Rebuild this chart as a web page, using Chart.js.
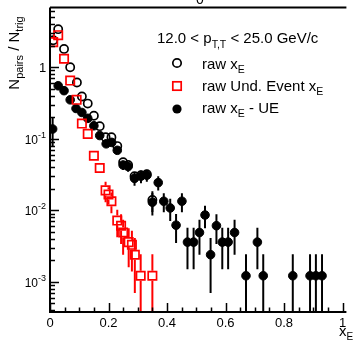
<!DOCTYPE html>
<html>
<head>
<meta charset="utf-8">
<script src="https://cdn.jsdelivr.net/npm/chart.js@4.4.0/dist/chart.umd.min.js"></script>
<style>
  html, body { margin: 0; padding: 0; background: #fff; }
  canvas { display: block; }
</style>
</head>
<body>
<canvas id="xeChart" width="354" height="340"></canvas>
<script>
// raw x_E (same-event pairs)
const xRaw = [0.011, 0.028, 0.048, 0.069, 0.092, 0.109, 0.129, 0.15, 0.17, 0.19, 0.21, 0.23, 0.25, 0.267, 0.289, 0.311, 0.331, 0.35];
const yRaw = [2.38, 3.4, 1.8, 1.0, 0.61, 0.39, 0.31, 0.21, 0.15, 0.105, 0.105, 0.079, 0.047, 0.043, 0.030, 0.031, 0.032, 0.014];
const eRaw = [0.05, 0.06, 0.04, 0.025, 0.02, 0.015, 0.013, 0.01, 0.008, 0.007, 0.007, 0.006, 0.005, 0.005, 0.004, 0.004, 0.004, 0.0045];

// underlying event x_E
const xUE = [0.011, 0.028, 0.048, 0.069, 0.091, 0.109, 0.129, 0.15, 0.17, 0.19, 0.2, 0.21, 0.23, 0.243, 0.25, 0.269, 0.28, 0.29, 0.31, 0.35];
const yUE = [2.24, 2.8, 1.31, 0.65, 0.35, 0.163, 0.117, 0.058, 0.039, 0.019, 0.0166, 0.0134, 0.0072, 0.0061, 0.0049, 0.0036, 0.0033, 0.0024, 0.00122, 0.00122];
const eUE = [0.05, 0.06, 0.03, 0.02, 0.015, 0.01, 0.009, 0.006, 0.005, 0.006, 0.0045, 0.0043, 0.003, 0.0027, 0.0025, 0.002, 0.0019, 0.0017, 0.00122, 0.00122];

// raw x_E minus underlying event
const xSub = [0.009, 0.028, 0.048, 0.069, 0.089, 0.109, 0.129, 0.15, 0.17, 0.192, 0.211, 0.23, 0.25, 0.267, 0.289, 0.311, 0.331, 0.35, 0.37, 0.389,
              0.411, 0.431, 0.451, 0.47, 0.491, 0.511, 0.53, 0.549, 0.569, 0.589, 0.609, 0.631, 0.67, 0.709, 0.729, 0.83, 0.889, 0.909, 0.93];
const ySub = [0.137, 0.55, 0.47, 0.35, 0.265, 0.233, 0.193, 0.152, 0.111, 0.085, 0.089, 0.069, 0.043, 0.041, 0.028, 0.030, 0.031, 0.013, 0.0244, 0.0134,
              0.0108, 0.0062, 0.0134, 0.0036, 0.0036, 0.0049, 0.0086, 0.0024, 0.0061, 0.0036, 0.0036, 0.0049, 0.00122, 0.0036, 0.00122, 0.00122, 0.00122, 0.00122, 0.00122];
const eSub = [0.06, 0.06, 0.04, 0.03, 0.022, 0.018, 0.015, 0.012, 0.01, 0.008, 0.008, 0.007, 0.0065, 0.0065, 0.006, 0.006, 0.006, 0.0045, 0.0055, 0.004,
              0.0037, 0.0027, 0.004, 0.0021, 0.0021, 0.0025, 0.003, 0.0017, 0.0027, 0.0021, 0.0021, 0.0025, 0.00122, 0.0021, 0.00122, 0.00122, 0.00122, 0.00122, 0.00122];

// axis labels
const xTickLabels = ['0', '0.2', '0.4', '0.6', '0.8', '1'];
const yDecades = [0, -1, -2, -3];

const FONT = '"Liberation Sans", Arial, Helvetica, sans-serif';
const RED = '#ff0000';

function toPoints(xs, ys) {
    return xs.map((x, i) => ({ x: x, y: ys[i] }));
}

// draws text pieces in a row: [text, size, baseline shift]
function drawRun(ctx, parts, x, y) {
    parts.forEach(p => {
        ctx.font = p[1] + 'px ' + FONT;
        ctx.fillText(p[0], x, y + p[2]);
        x += ctx.measureText(p[0]).width;
    });
    return x;
}

function runWidth(ctx, parts) {
    let w = 0;
    parts.forEach(p => {
        ctx.font = p[1] + 'px ' + FONT;
        w += ctx.measureText(p[0]).width;
    });
    return w;
}

// vertical error bars, kept outside hollow markers
const errorBars = {
    id: 'errorBars',
    beforeDatasetsDraw(chart) {
        const ctx = chart.ctx;
        const ys = chart.scales.y;
        const area = chart.chartArea;
        ctx.save();
        ctx.beginPath();
        ctx.rect(area.left, area.top, area.right - area.left, area.bottom - area.top);
        ctx.clip();
        chart.data.datasets.forEach((ds, i) => {
            const meta = chart.getDatasetMeta(i);
            ctx.strokeStyle = ds.borderColor;
            ctx.lineWidth = 2;
            meta.data.forEach((pt, j) => {
                const v = ds.data[j].y;
                const e = ds.errors[j];
                const top = ys.getPixelForValue(v + e);
                const bot = (v - e) > ys.min ? ys.getPixelForValue(v - e) : area.bottom;
                const gap = ds.errGap;
                ctx.beginPath();
                if (top < pt.y - gap) {
                    ctx.moveTo(pt.x, pt.y - gap);
                    ctx.lineTo(pt.x, top);
                }
                if (bot > pt.y + gap) {
                    ctx.moveTo(pt.x, pt.y + gap);
                    ctx.lineTo(pt.x, bot);
                }
                ctx.stroke();
            });
        });
        ctx.restore();
    }
};

// frame, inward ticks, tick labels, titles and legend
const frame = {
    id: 'frame',
    afterDraw(chart) {
        const ctx = chart.ctx;
        const xs = chart.scales.x;
        const ys = chart.scales.y;
        const a = chart.chartArea;
        ctx.save();
        ctx.strokeStyle = '#000';
        ctx.fillStyle = '#000';

        // x ticks every 0.05, major every 0.2
        ctx.lineWidth = 1.5;
        ctx.beginPath();
        for (let i = 0; i <= 20; i++) {
            const px = Math.round(xs.getPixelForValue(i * 0.05)) + 0.5;
            const len = i % 4 === 0 ? 9 : 4.5;
            ctx.moveTo(px, a.bottom);
            ctx.lineTo(px, a.bottom - len);
        }
        // y ticks on the log axis
        for (let d = -4; d <= 0; d++) {
            for (let m = 1; m <= 9; m++) {
                const v = m * Math.pow(10, d);
                if (v < ys.min || v > ys.max) continue;
                const py = Math.round(ys.getPixelForValue(v)) + 0.5;
                const len = m === 1 ? 9 : 5;
                ctx.moveTo(a.left, py);
                ctx.lineTo(a.left + len, py);
            }
        }
        ctx.stroke();

        // frame lines
        ctx.lineWidth = 2;
        ctx.beginPath();
        ctx.moveTo(a.left, a.top);
        ctx.lineTo(a.right, a.top);
        ctx.moveTo(a.left, a.top);
        ctx.lineTo(a.left, a.bottom);
        ctx.lineTo(a.right, a.bottom);
        ctx.stroke();

        // x tick labels
        ctx.textAlign = 'center';
        ctx.textBaseline = 'alphabetic';
        ctx.font = '13px ' + FONT;
        xTickLabels.forEach((t, i) => {
            ctx.fillText(t, xs.getPixelForValue(i * 0.2), a.bottom + 15);
        });

        // y tick labels
        ctx.textAlign = 'left';
        yDecades.forEach(d => {
            const py = ys.getPixelForValue(Math.pow(10, d));
            if (d === 0) {
                ctx.font = '13px ' + FONT;
                ctx.fillText('1', a.left - 11, py + 5);
            } else {
                const parts = [['10', 12, 0], [String(d), 9, -6]];
                const w = runWidth(ctx, parts);
                drawRun(ctx, parts, a.left - 4 - w, py + 5);
            }
        });

        // x axis title
        drawRun(ctx, [['x', 15, 0], ['E', 10, 4]], 339, 336);

        // y axis title, rotated
        ctx.save();
        ctx.translate(19, 53);
        ctx.rotate(-Math.PI / 2);
        const yt = [['N', 15, 0], ['pairs', 11, 4], [' / N', 15, 0], ['trig', 11, 4]];
        drawRun(ctx, yt, -runWidth(ctx, yt) / 2, 0);
        ctx.restore();

        // label of the panel above, clipped by the canvas edge
        ctx.textAlign = 'center';
        ctx.font = '14px ' + FONT;
        ctx.fillText('0', 200, 4);
        ctx.textAlign = 'left';

        // legend
        drawRun(ctx, [['12.0 < p', 15, 0], ['T,T', 10.5, 5], [' < 25.0 GeV/c', 15, 0]], 157, 43);

        const mx = 177;
        ctx.lineWidth = 1.7;
        ctx.beginPath();
        ctx.arc(mx, 63, 4.2, 0, Math.PI * 2);
        ctx.stroke();
        drawRun(ctx, [['raw x', 15, 0], ['E', 10.5, 4]], 202, 69);

        ctx.strokeStyle = RED;
        ctx.strokeRect(mx - 4.2, 86 - 4.2, 8.4, 8.4);
        drawRun(ctx, [['raw Und. Event x', 15, 0], ['E', 10.5, 4]], 202, 91);

        ctx.beginPath();
        ctx.arc(mx, 109, 4.6, 0, Math.PI * 2);
        ctx.fill();
        const px = drawRun(ctx, [['raw x', 15, 0], ['E', 10.5, 4]], 202, 113);
        drawRun(ctx, [[' - UE', 15, 0]], px, 113);

        ctx.restore();
    }
};

const ctx = document.getElementById('xeChart').getContext('2d');
new Chart(ctx, {
    type: 'scatter',
    data: {
        datasets: [
            {
                label: 'raw Und. Event xE',
                data: toPoints(xUE, yUE),
                errors: eUE,
                errGap: 5,
                pointStyle: 'rect',
                radius: 5.9,
                borderWidth: 1.7,
                borderColor: RED,
                backgroundColor: 'rgba(0,0,0,0)',
                order: 0
            },
            {
                label: 'raw xE',
                data: toPoints(xRaw, yRaw),
                errors: eRaw,
                errGap: 5,
                pointStyle: 'circle',
                radius: 4.1,
                borderWidth: 1.7,
                borderColor: '#000',
                backgroundColor: 'rgba(0,0,0,0)',
                order: 1
            },
            {
                label: 'raw xE - UE',
                data: toPoints(xSub, ySub),
                errors: eSub,
                errGap: 0,
                pointStyle: 'circle',
                radius: 4.3,
                borderWidth: 1,
                borderColor: '#000',
                backgroundColor: '#000',
                order: 2
            }
        ]
    },
    options: {
        responsive: false,
        animation: false,
        layout: {
            padding: { left: 50, top: 5, right: 0, bottom: 28 }
        },
        plugins: {
            legend: { display: false },
            tooltip: { enabled: false }
        },
        scales: {
            x: {
                type: 'linear',
                display: false,
                min: 0,
                max: 1.0133
            },
            y: {
                type: 'logarithmic',
                display: false,
                min: 3.8e-4,
                max: 6.8
            }
        }
    },
    plugins: [errorBars, frame]
});
</script>
</body>
</html>
